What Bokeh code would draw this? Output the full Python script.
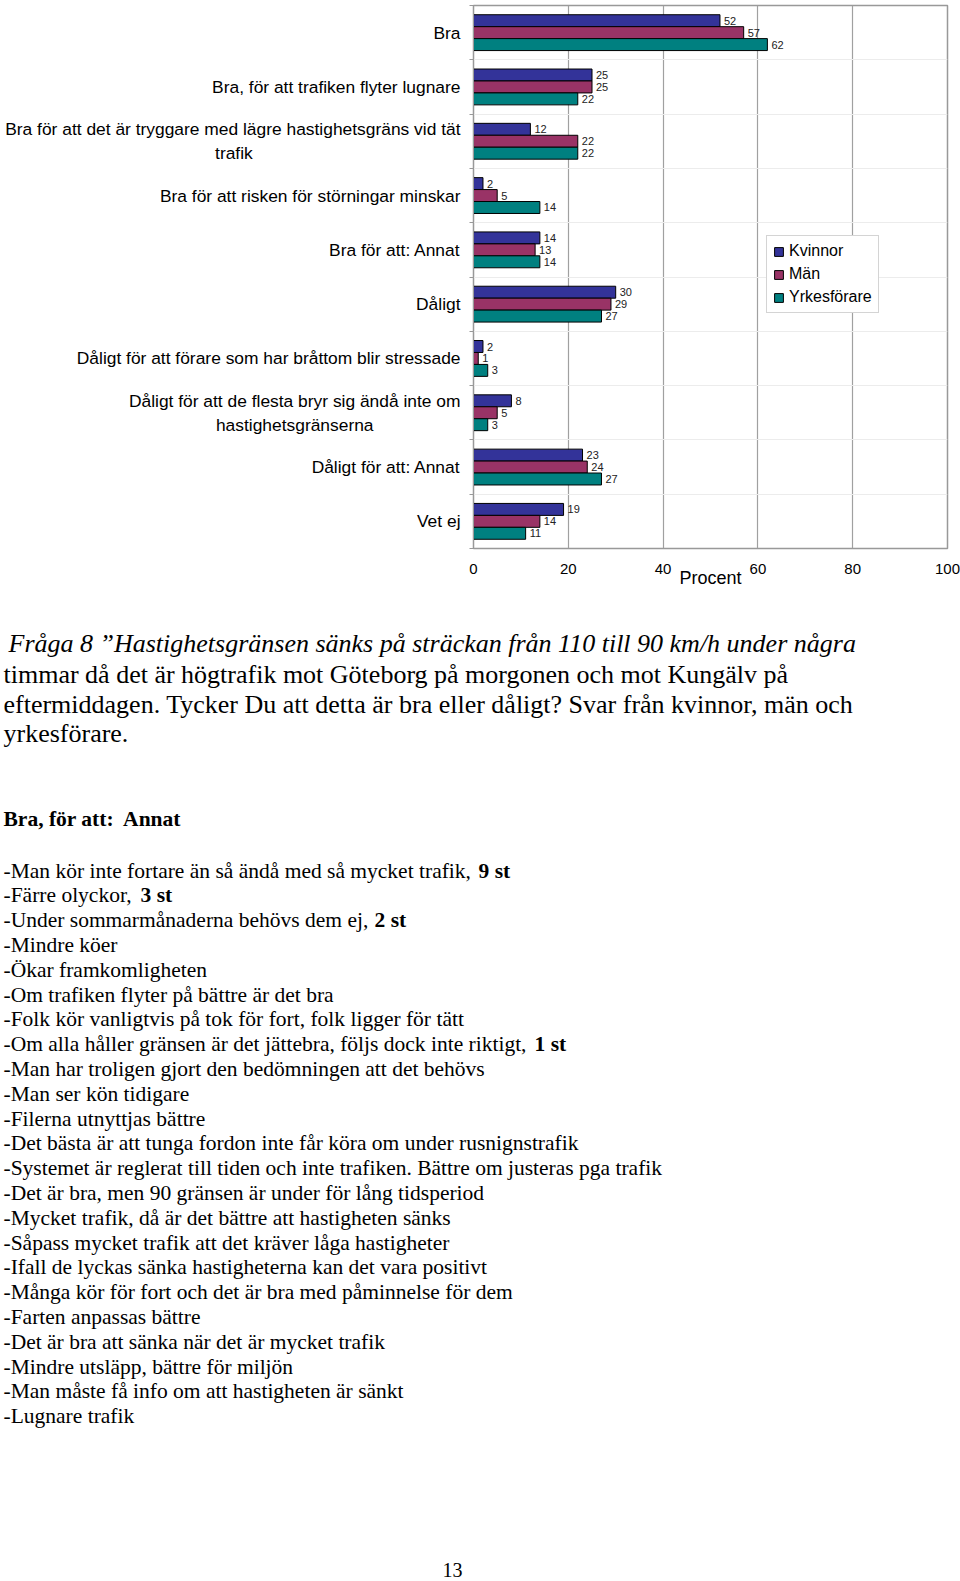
import numpy as np
from bokeh.plotting import figure
from bokeh.models import Range1d, FixedTicker, ColumnDataSource
from bokeh.layouts import column
from bokeh.embed import file_html
from bokeh.resources import INLINE
from bokeh.core.properties import value

# ---------------- data ----------------
categories = [
    "Bra",
    "Bra, för att trafiken flyter lugnare",
    "Bra för att det är tryggare med lägre hastighetsgräns vid tät\ntrafik",
    "Bra för att risken för störningar minskar",
    "Bra för att: Annat",
    "Dåligt",
    "Dåligt för att förare som har bråttom blir stressade",
    "Dåligt för att de flesta bryr sig ändå inte om\nhastighetsgränserna",
    "Dåligt för att: Annat",
    "Vet ej",
]
series_names = ["Kvinnor", "Män", "Yrkesförare"]
kvinnor = [52, 25, 12, 2, 14, 30, 2, 8, 23, 19]
man = [57, 25, 22, 5, 13, 29, 1, 5, 24, 14]
yrkesforare = [62, 22, 22, 14, 14, 27, 3, 3, 27, 11]
x_ticks = [0, 20, 40, 60, 80, 100]
x_title = "Procent"

question_lines = [
    "Fråga 8 \u201dHastighetsgränsen sänks på sträckan från 110 till 90 km/h under några",
    "timmar då det är högtrafik mot Göteborg på morgonen och mot Kungälv på",
    "eftermiddagen. Tycker Du att detta är bra eller dåligt? Svar från kvinnor, män och",
    "yrkesförare.",
]
list_title = "Bra, för att:\u00a0 Annat"
list_items = [
    "-Man kör inte fortare än så ändå med så mycket trafik,",
    "-Färre olyckor,",
    "-Under sommarmånaderna behövs dem ej,",
    "-Mindre köer",
    "-Ökar framkomligheten",
    "-Om trafiken flyter på bättre är det bra",
    "-Folk kör vanligtvis på tok för fort, folk ligger för tätt",
    "-Om alla håller gränsen är det jättebra, följs dock inte riktigt,",
    "-Man har troligen gjort den bedömningen att det behövs",
    "-Man ser kön tidigare",
    "-Filerna utnyttjas bättre",
    "-Det bästa är att tunga fordon inte får köra om under rusnignstrafik",
    "-Systemet är reglerat till tiden och inte trafiken. Bättre om justeras pga trafik",
    "-Det är bra, men 90 gränsen är under för lång tidsperiod",
    "-Mycket trafik, då är det bättre att hastigheten sänks",
    "-Såpass mycket trafik att det kräver låga hastigheter",
    "-Ifall de lyckas sänka hastigheterna kan det vara positivt",
    "-Många kör för fort och det är bra med påminnelse för dem",
    "-Farten anpassas bättre",
    "-Det är bra att sänka när det är mycket trafik",
    "-Mindre utsläpp, bättre för miljön",
    "-Man måste få info om att hastigheten är sänkt",
    "-Lugnare trafik",
]
list_counts = ["9 st", "3 st", "2 st", "", "", "", "", "1 st"] + [""] * 15
page_number = "13"

# ---------------- layout constants ----------------
W = 960
H_TOTAL = 1581
H1 = 600
FL, FR, FT, FB = 473, 947, 5, 548
n = len(categories)
colors = ["#333399", "#993366", "#008080"]
SANS = "Liberation Sans"
SERIF = "Liberation Serif"
NBSP = "\u00a0"
# wrapped labels: second line is centred under the first (right padding in spaces)
wrap_pad = {2: 43, 7: 18}

p = figure(width=W, height=H1, title=None,
           x_range=Range1d(x_ticks[0], x_ticks[-1]), y_range=Range1d(n, 0),
           min_border_left=FL, min_border_right=W - FR,
           min_border_top=FT, min_border_bottom=H1 - FB,
           output_backend="svg", toolbar_location=None)
p.frame_align = False
p.background_fill_color = "white"
p.border_fill_color = "white"
p.outline_line_color = "#999999"
p.outline_line_width = 1.5

centers = [i + 0.5 for i in range(n)]
bounds = list(range(n + 1))

# grids
p.xgrid.ticker = FixedTicker(ticks=x_ticks)
p.xgrid.grid_line_color = "#a0a0a0"
p.xgrid.grid_line_width = 1.2
p.ygrid.ticker = FixedTicker(ticks=bounds)
p.ygrid.grid_line_color = "#ececec"

# x axis
p.xaxis.ticker = FixedTicker(ticks=x_ticks)
p.xaxis.axis_line_color = None
p.xaxis.major_tick_line_color = None
p.xaxis.minor_tick_line_color = None
p.xaxis.major_tick_out = 0
p.xaxis.major_tick_in = 0
p.xaxis.major_label_standoff = 15
p.xaxis.major_label_text_font = SANS
p.xaxis.major_label_text_font_size = "15px"
p.xaxis.major_label_text_color = "black"
p.xaxis.axis_label = x_title
p.xaxis.axis_label_text_font = SANS
p.xaxis.axis_label_text_font_style = "normal"
p.xaxis.axis_label_text_font_size = "18px"
p.xaxis.axis_label_text_color = "black"
p.xaxis.axis_label_standoff = -9

# y axis: category names at centres, small ticks at boundaries
labels = {}
for i, (c, lab) in enumerate(zip(centers, categories)):
    if i in wrap_pad:
        labels[c] = lab + NBSP * wrap_pad[i]
    else:
        labels[c] = lab
p.yaxis.ticker = FixedTicker(ticks=centers, minor_ticks=bounds)
p.yaxis.major_label_overrides = labels
p.yaxis.axis_line_color = "#999999"
p.yaxis.major_tick_line_color = None
p.yaxis.major_tick_out = 0
p.yaxis.major_tick_in = 0
p.yaxis.minor_tick_line_color = "#999999"
p.yaxis.minor_tick_out = 4
p.yaxis.minor_tick_in = 0
p.yaxis.major_label_standoff = 9
p.yaxis.major_label_text_font = SANS
p.yaxis.major_label_text_font_size = "17.4px"
p.yaxis.major_label_text_color = "black"

bar_h = 0.22
offsets = [-bar_h, 0.0, bar_h]
series_vals = [kvinnor, man, yrkesforare]
for name, vals, off, col in zip(series_names, series_vals, offsets, colors):
    src = ColumnDataSource(dict(y=[c + off for c in centers], right=vals,
                                lab=[str(v) for v in vals]))
    p.hbar(y="y", right="right", left=0, height=bar_h, source=src,
           fill_color=col, line_color="black", line_width=1, legend_label=name)
    p.text(x="right", y="y", text="lab", source=src, x_offset=4,
           text_font=value(SANS), text_font_size="11px", text_color="#222222",
           text_baseline="middle", text_align="left")

# legend
lg = p.legend[0]
lg.location = (766 - FL, FB - 313)
lg.label_text_font = SANS
lg.label_text_font_size = "16px"
lg.label_text_color = "black"
lg.glyph_width = 11
lg.glyph_height = 11
lg.label_height = 17
lg.label_standoff = 5
lg.spacing = 5
lg.padding = 6
lg.margin = 0
lg.border_line_color = "#aaaaaa"
lg.background_fill_color = "white"
lg.background_fill_alpha = 1.0

# ---------------- text part of page ----------------
q = figure(width=W, height=H_TOTAL - H1, title=None,
           x_range=Range1d(0, W), y_range=Range1d(H_TOTAL, H1),
           min_border=0, x_axis_type=None, y_axis_type=None,
           output_backend="svg", toolbar_location=None)
q.frame_align = False
q.outline_line_color = None
q.background_fill_color = "white"
q.border_fill_color = "white"

q_y = [643, 674, 704, 733]
q.text(x=[8], y=[q_y[0]], text=[question_lines[0]], text_font=value(SERIF),
       text_font_style="italic", text_font_size="26px", text_color="black",
       text_baseline="middle", text_align="left")
q.text(x=[3, 3, 3], y=q_y[1:], text=question_lines[1:], text_font=value(SERIF),
       text_font_size="26px", text_color="black",
       text_baseline="middle", text_align="left")

q.text(x=[3], y=[818], text=[list_title], text_font=value(SERIF),
       text_font_style="bold", text_font_size="21.5px", text_color="black",
       text_baseline="middle", text_align="left")

l_y = [870 + 24.8 * i for i in range(len(list_items))]
q.text(x=[3] * len(list_items), y=l_y, text=list_items, text_font=value(SERIF),
       text_font_size="21.5px", text_color="black",
       text_baseline="middle", text_align="left")

count_x = {0: 478, 1: 140, 2: 374, 7: 534}
bx, by, bt = [], [], []
for i, c in enumerate(list_counts):
    if c:
        bx.append(count_x[i]); by.append(l_y[i]); bt.append(c)
q.text(x=bx, y=by, text=bt, text_font=value(SERIF), text_font_style="bold",
       text_font_size="21.5px", text_color="black",
       text_baseline="middle", text_align="left")

q.text(x=[452], y=[1569], text=[page_number], text_font=value(SERIF),
       text_font_size="20px", text_color="black",
       text_baseline="middle", text_align="center")

layout = column(p, q, spacing=0)
open("out.html", "w").write(file_html(layout, INLINE))
